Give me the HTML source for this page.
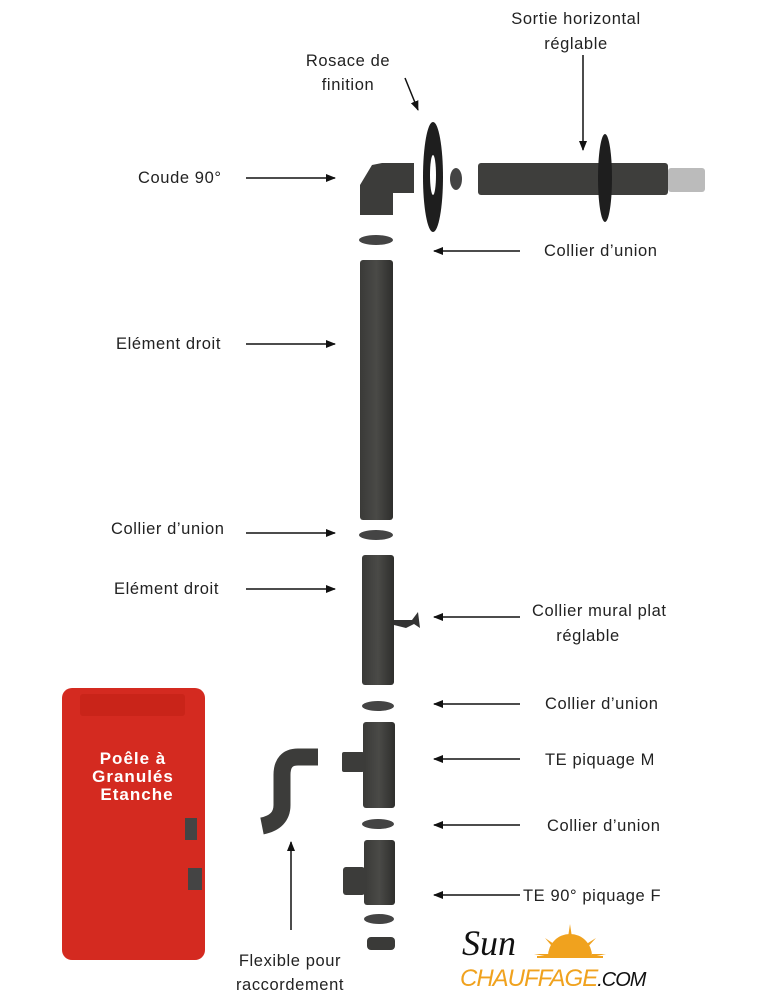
<!DOCTYPE html>
<html><head><meta charset="utf-8"><style>
html,body{margin:0;padding:0;background:#fff;}
svg{display:block;}
text{font-family:"Liberation Sans",sans-serif;font-size:16.5px;letter-spacing:0.6px;fill:#222;}
</style></head><body>
<svg width="769" height="1000" viewBox="0 0 769 1000" xmlns="http://www.w3.org/2000/svg">
<defs>
<marker id="ah" markerWidth="10" markerHeight="8" refX="9" refY="4" orient="auto" markerUnits="userSpaceOnUse">
<path d="M0,0 L10,4 L0,8 Z" fill="#111"/></marker>
<linearGradient id="pg" x1="0" x2="1" y1="0" y2="0">
<stop offset="0" stop-color="#3a3a38"/><stop offset="0.5" stop-color="#4a4a47"/><stop offset="1" stop-color="#2e2e2c"/></linearGradient>
</defs>
<g fill="url(#pg)" stroke="none">
<path d="M360,215 L360,185 L372,165 L382,163 L414,163 L414,193 L393,193 L393,215 Z" fill="#3c3c3a"/>
<ellipse cx="376" cy="240" rx="17" ry="5" fill="#444"/>
<rect x="360" y="260" width="33" height="260" rx="3"/>
<ellipse cx="376" cy="535" rx="17" ry="5" fill="#444"/>
<rect x="362" y="555" width="32" height="130" rx="3"/>
<path d="M394,620 L412,620 L418,612 L420,628 L414,624 L406,628 L394,625 Z" fill="#333"/>
<ellipse cx="378" cy="706" rx="16" ry="5" fill="#444"/>
<rect x="363" y="722" width="32" height="86" rx="3"/>
<rect x="342" y="752" width="22" height="20" rx="2" fill="#3c3c3a"/>
<ellipse cx="378" cy="824" rx="16" ry="5" fill="#444"/>
<rect x="364" y="840" width="31" height="65" rx="3"/>
<rect x="343" y="867" width="22" height="28" rx="3" fill="#3c3c3a"/>
<ellipse cx="379" cy="919" rx="15" ry="5" fill="#444"/>
<rect x="367" y="937" width="28" height="13" rx="4" fill="#3a3a38"/>
<ellipse cx="433" cy="177" rx="10" ry="55" fill="#1e1e1e"/>
<ellipse cx="433" cy="175" rx="3" ry="20" fill="#fff"/>
<ellipse cx="456" cy="179" rx="6" ry="11" fill="#444"/>
<rect x="478" y="163" width="190" height="32" rx="3" fill="#3e3e3c"/>
<ellipse cx="605" cy="178" rx="7" ry="44" fill="#1e1e1e"/>
<rect x="668" y="168" width="37" height="24" rx="3" fill="#bbb"/>
<path d="M318,757 L298,757 Q282,757 282,775 L282,805 Q282,822 262,826" fill="none" stroke="#3c3c3a" stroke-width="17" stroke-linecap="butt"/>
</g>
<rect x="62" y="688" width="143" height="272" rx="10" fill="#d42a20"/>
<rect x="80" y="694" width="105" height="22" rx="3" fill="#c92419"/>
<rect x="185" y="818" width="12" height="22" fill="#444"/>
<rect x="188" y="868" width="14" height="22" fill="#444"/>
<text x="133" y="764" text-anchor="middle" style="fill:#fff;font-weight:bold;font-size:17px;letter-spacing:1px">Poêle à</text>
<text x="133" y="782" text-anchor="middle" style="fill:#fff;font-weight:bold;font-size:17px;letter-spacing:1px">Granulés</text>
<text x="137" y="800" text-anchor="middle" style="fill:#fff;font-weight:bold;font-size:17px;letter-spacing:1px">Etanche</text>
<g stroke="#111" stroke-width="1.5" marker-end="url(#ah)">
<line x1="246" y1="178" x2="335" y2="178"/>
<line x1="246" y1="344" x2="335" y2="344"/>
<line x1="246" y1="533" x2="335" y2="533"/>
<line x1="246" y1="589" x2="335" y2="589"/>
<line x1="520" y1="251" x2="434" y2="251"/>
<line x1="520" y1="617" x2="434" y2="617"/>
<line x1="520" y1="704" x2="434" y2="704"/>
<line x1="520" y1="759" x2="434" y2="759"/>
<line x1="520" y1="825" x2="434" y2="825"/>
<line x1="520" y1="895" x2="434" y2="895"/>
<line x1="405" y1="78" x2="418" y2="110"/>
<line x1="583" y1="55" x2="583" y2="150"/>
<line x1="291" y1="930" x2="291" y2="842"/>
</g>
<text x="138" y="183">Coude 90°</text>
<text x="116" y="349">Elément droit</text>
<text x="111" y="534">Collier d’union</text>
<text x="114" y="594">Elément droit</text>
<text x="544" y="256">Collier d’union</text>
<text x="532" y="616">Collier mural plat</text>
<text x="588" y="641" text-anchor="middle">réglable</text>
<text x="545" y="709">Collier d’union</text>
<text x="545" y="765">TE piquage M</text>
<text x="547" y="831">Collier d’union</text>
<text x="523" y="901">TE 90° piquage F</text>
<text x="348" y="66" text-anchor="middle">Rosace de</text>
<text x="348" y="90" text-anchor="middle">finition</text>
<text x="576" y="24" text-anchor="middle">Sortie horizontal</text>
<text x="576" y="49" text-anchor="middle">réglable</text>
<text x="290" y="966" text-anchor="middle">Flexible pour</text>
<text x="290" y="990" text-anchor="middle">raccordement</text>
<text x="462" y="955" style="font-family:'Liberation Serif',serif;font-style:italic;font-size:36px;fill:#111;letter-spacing:0">Sun</text>
<g fill="#f0a21e">
<path d="M548,956 A22,22 0 0 1 592,956 Z"/>
<polygon points="570,924 573,944 567,944"/>
<polygon points="545,938 560,948 556,951"/>
<polygon points="596,938 584,951 580,948"/>
<polygon points="534,954 550,954 550,957"/>
<polygon points="606,954 592,957 592,954"/>
</g>
<line x1="537" y1="957" x2="603" y2="957" stroke="#f0a21e" stroke-width="2"/>
<text x="460" y="986" style="font-style:italic;font-size:24px;fill:#f0a21e;letter-spacing:-1px">CHAUFFAGE<tspan style="fill:#111;font-size:20px">.COM</tspan></text>
</svg>
</body></html>
